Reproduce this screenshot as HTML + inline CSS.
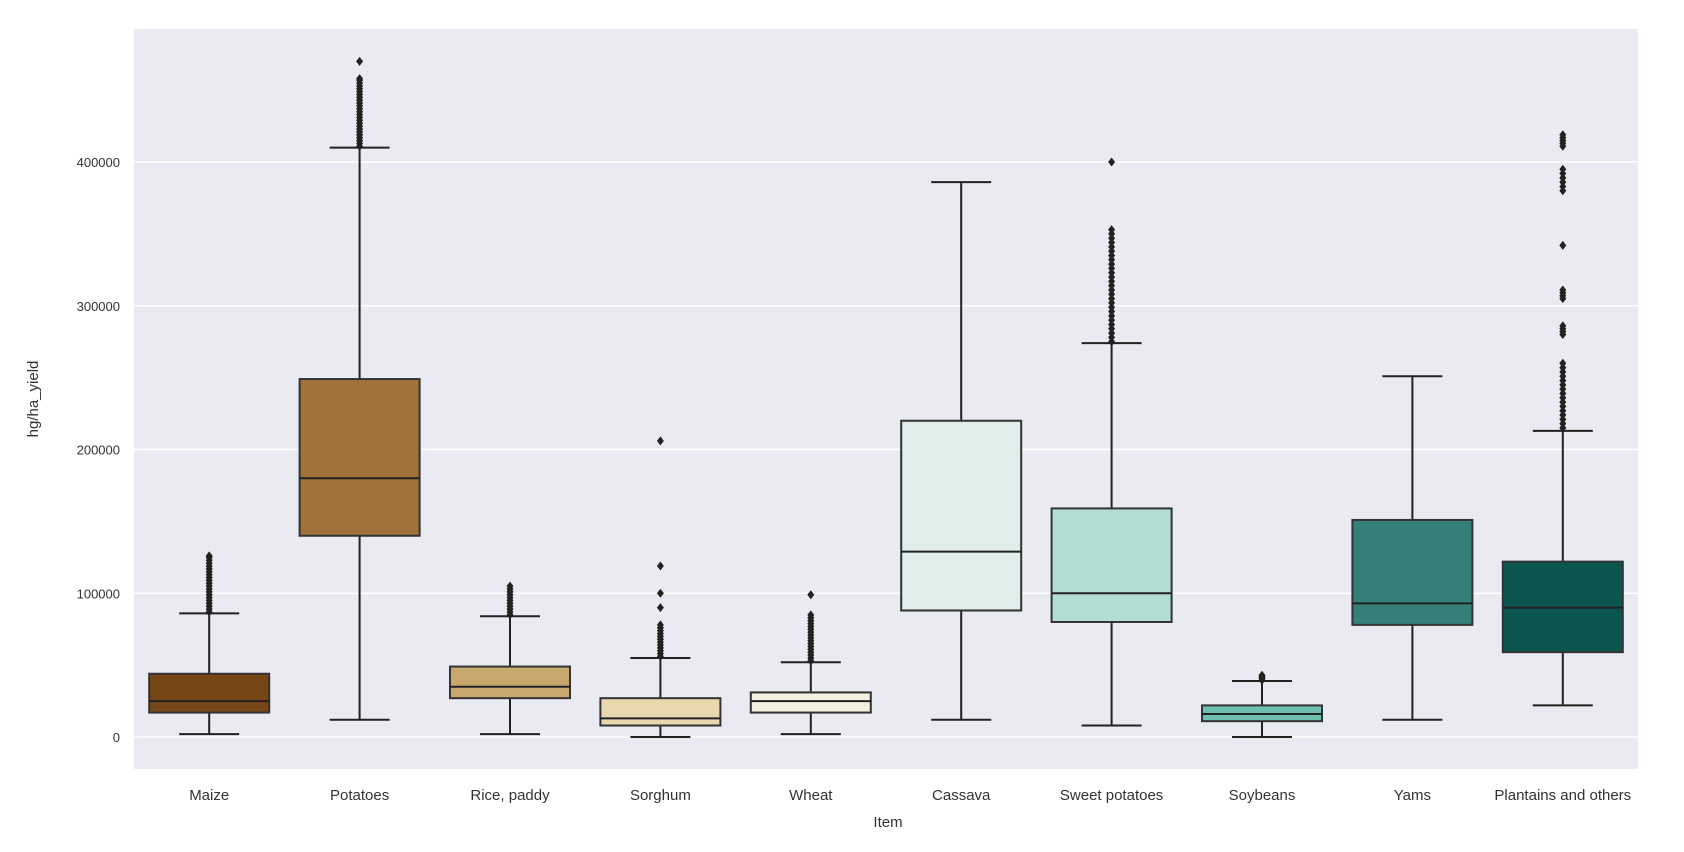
<!DOCTYPE html>
<html><head><meta charset="utf-8"><style>
body{margin:0;background:#fff;}
svg{display:block;font-family:"Liberation Sans",sans-serif;}
</style></head><body>
<svg id="chart" width="1684" height="852">
<rect x="134" y="29" width="1504" height="740" fill="#eaeaf2"/>
<g id="grid"></g><g id="boxes"></g><g id="labels"></g>
<text x="888" y="827" font-size="15" fill="#333" text-anchor="middle">Item</text>
<text transform="translate(38,399) rotate(-90)" font-size="15" fill="#333" text-anchor="middle">hg/ha_yield</text>
</svg>
<script>
const categories=["Maize","Potatoes","Rice, paddy","Sorghum","Wheat","Cassava","Sweet potatoes","Soybeans","Yams","Plantains and others"];
const whiskerLow=[2,12,2,0,2,12,8,0,12,22];
const q1=[17,140,27,8,17,88,80,11,78,59];
const median=[25,180,35,13,25,129,100,16,93,90];
const q3=[44,249,49,27,31,220,159,22,151,122];
const whiskerHigh=[86,410,84,55,52,386,274,39,251,213];
const outliers=[
 [87,89,91,93,95,97,99,101,103,105,107,109,111,113,115,117,119,121,123,125,126],
 [411,413,415,417,419,421,423,425,427,429,431,433,435,437,439,441,443,445,447,449,451,453,455,457,458,470],
 [85,87,89,91,93,95,97,99,101,103,105],
 [56,58,60,62,64,66,68,70,72,74,76,78,90,100,119,206],
 [53,55,57,59,61,63,65,67,69,71,73,75,77,79,81,83,85,99],
 [],
 [275,278,281,284,287,290,293,296,299,302,305,308,311,314,317,320,323,326,329,332,335,338,341,344,347,350,353,400],
 [39.5,40.5,41.5,42.5,43],
 [],
 [215,218,221,224,227,230,233,236,239,242,245,248,251,254,257,260,280,282,284,286,305,307,309,311,342,380,383,386,389,392,395,411,413,415,417,419]
];
const yTicks=[0,100000,200000,300000,400000];
const fills=["#774616","#a0733a","#c9a86d","#e9d7ae","#f5efdf","#e0edeb","#b1ddd4","#6dbfb1","#357f79","#0c5650"];
const NS="http://www.w3.org/2000/svg";
const x0=134,bw=150.4;
function xs(i){return x0+bw*(i+0.5);}
function ys(v){return 737-v*1.4375;}
function mk(tag,a,p){const e=document.createElementNS(NS,tag);for(const k in a)e.setAttribute(k,a[k]);p.appendChild(e);return e;}
const grid=document.getElementById('grid'),boxes=document.getElementById('boxes'),labels=document.getElementById('labels');
yTicks.forEach(t=>{
 const y=ys(t/1000);
 const l=mk('line',{x1:134,x2:1638,y1:y,y2:y,stroke:'#fff','stroke-width':1.6},grid);
 
 
 const tx=mk('text',{x:120,y:y+5,'font-size':13,fill:'#333','text-anchor':'end'},labels);
 tx.textContent=String(t);
 
 
});
categories.forEach((c,i)=>{
 const cx=xs(i),hw=60,cw=30;
 const g=mk('g',{},boxes);
 
 
 const st={stroke:'#222','stroke-width':2};
 mk('line',Object.assign({x1:cx,x2:cx,y1:ys(whiskerLow[i]),y2:ys(q1[i])},st),g);
 mk('line',Object.assign({x1:cx,x2:cx,y1:ys(q3[i]),y2:ys(whiskerHigh[i])},st),g);
 mk('line',Object.assign({x1:cx-cw,x2:cx+cw,y1:ys(whiskerLow[i]),y2:ys(whiskerLow[i])},st),g);
 mk('line',Object.assign({x1:cx-cw,x2:cx+cw,y1:ys(whiskerHigh[i]),y2:ys(whiskerHigh[i])},st),g);
 mk('rect',{x:cx-hw,y:ys(q3[i]),width:2*hw,height:ys(q1[i])-ys(q3[i]),fill:fills[i],stroke:'#333','stroke-width':2},g);
 mk('line',Object.assign({x1:cx-hw,x2:cx+hw,y1:ys(median[i]),y2:ys(median[i])},st),g);
 outliers[i].forEach(v=>{
  const y=ys(v);
  const d=mk('path',{d:`M${cx} ${y-4.5}L${cx+3.5} ${y}L${cx} ${y+4.5}L${cx-3.5} ${y}Z`,fill:'#222'},g);
  
  
 });
 const tx=mk('text',{x:cx,y:800,'font-size':15,fill:'#333','text-anchor':'middle'},labels);
 tx.textContent=c;
 
 
});
</script>
</body></html>
